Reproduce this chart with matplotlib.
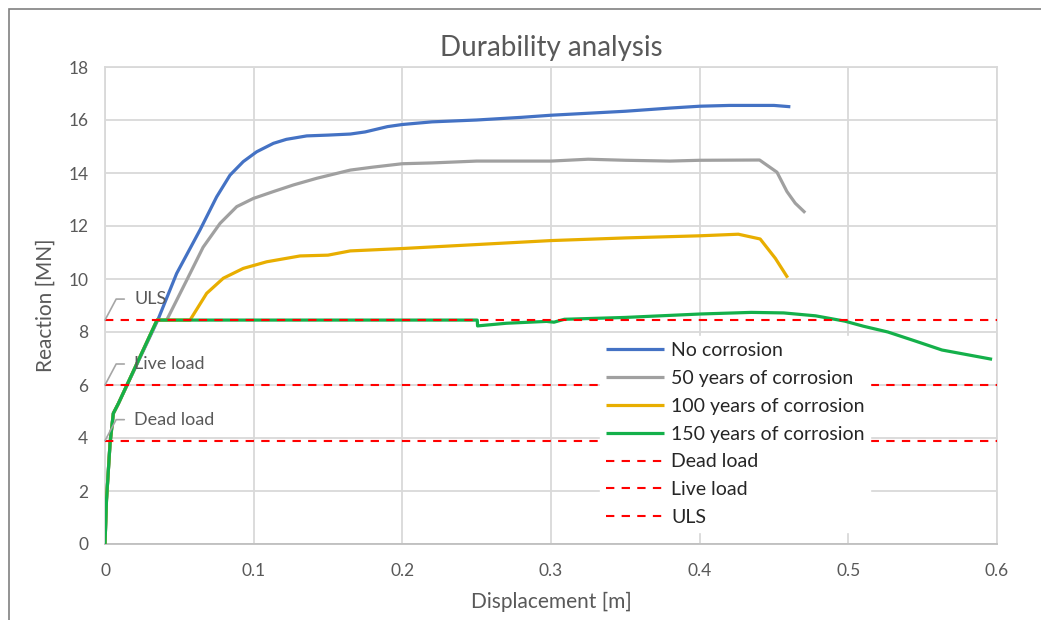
import matplotlib
matplotlib.use("Agg")
import matplotlib.pyplot as plt
from matplotlib.patches import Rectangle

# ---- data ----
x_none = [0, 0.001, 0.0034, 0.0056, 0.009, 0.0355, 0.0482, 0.0639, 0.0751, 0.0841, 0.093,
          0.102, 0.1133, 0.122, 0.1357, 0.15, 0.165, 0.175, 0.19, 0.2, 0.22, 0.25, 0.28,
          0.3, 0.33, 0.35, 0.38, 0.4, 0.42, 0.45, 0.461]
y_none = [0, 1.66, 3.8, 4.93, 5.3, 8.45, 10.21, 11.85, 13.1, 13.92, 14.43,
          14.8, 15.12, 15.27, 15.4, 15.43, 15.47, 15.55, 15.75, 15.83, 15.93, 16.0, 16.1,
          16.18, 16.27, 16.33, 16.45, 16.52, 16.55, 16.55, 16.5]

x_50 = [0, 0.001, 0.0034, 0.0056, 0.009, 0.035, 0.0415, 0.055, 0.066, 0.0774, 0.0886,
        0.0998, 0.1133, 0.1268, 0.1424, 0.165, 0.18, 0.2, 0.22, 0.25, 0.3, 0.325, 0.35,
        0.38, 0.4, 0.4403, 0.452, 0.4587, 0.4643, 0.471]
y_50 = [0, 1.66, 3.8, 4.93, 5.3, 8.45, 8.45, 9.96, 11.2, 12.1, 12.73,
        13.04, 13.3, 13.55, 13.8, 14.11, 14.22, 14.35, 14.38, 14.45, 14.45, 14.52, 14.48,
        14.45, 14.48, 14.49, 14.03, 13.3, 12.86, 12.5]

x_100 = [0, 0.001, 0.0034, 0.0056, 0.009, 0.035, 0.0572, 0.0684, 0.0796, 0.093, 0.1088,
         0.1312, 0.15, 0.165, 0.2, 0.25, 0.3, 0.35, 0.4, 0.426, 0.4407, 0.4509, 0.4592]
y_100 = [0, 1.66, 3.8, 4.93, 5.3, 8.45, 8.45, 9.46, 10.03, 10.4, 10.65,
         10.87, 10.9, 11.06, 11.15, 11.3, 11.45, 11.55, 11.63, 11.69, 11.51, 10.78, 10.05]

x_150 = [0, 0.001, 0.0034, 0.0056, 0.009, 0.035, 0.2504, 0.2506, 0.27, 0.297, 0.302, 0.309,
         0.35, 0.4008, 0.4347, 0.4565, 0.478, 0.4976, 0.51, 0.5266, 0.545, 0.563, 0.5967]
y_150 = [0, 1.66, 3.8, 4.93, 5.3, 8.45, 8.45, 8.23, 8.33, 8.4, 8.37, 8.48,
         8.55, 8.68, 8.74, 8.72, 8.61, 8.41, 8.22, 8.0, 7.66, 7.32, 6.97]

load_names = ["Dead load", "Live load", "ULS"]
load_values = [3.9, 6.0, 8.45]
load_x = [0, 0.6]

series_names = ["No corrosion", "50 years of corrosion", "100 years of corrosion",
                "150 years of corrosion"]
series_colors = ["#4472C4", "#A0A0A0", "#E8AE00", "#14B04A"]

x_ticks = [0, 0.1, 0.2, 0.3, 0.4, 0.5, 0.6]
x_ticklabels = ["0", "0.1", "0.2", "0.3", "0.4", "0.5", "0.6"]
y_ticks = list(range(0, 19, 2))

# ---- figure ----
plt.rcParams['font.family'] = ['Lato', 'DejaVu Sans']
txt = "#595959"

fig = plt.figure(figsize=(10.41, 6.2), dpi=100)
ax = fig.add_axes([105 / 1041, 1 - 544 / 620, (997 - 105) / 1041, (544 - 67) / 620])

# outer chart border
fig.patches.append(Rectangle((9 / 1041, -0.1), 1.2, (620 - 9) / 620 + 0.1,
                             transform=fig.transFigure, fill=False,
                             edgecolor="#808080", linewidth=1.2, clip_on=False))

xs = [x_none, x_50, x_100, x_150]
ys = [y_none, y_50, y_100, y_150]
for xv, yv, name, col in zip(xs, ys, series_names, series_colors):
    ax.plot(xv, yv, color=col, lw=2.3, label=name, solid_capstyle='butt', zorder=3)

for name, val in zip(load_names, load_values):
    ax.plot(load_x, [val, val], color="#FF0000", lw=1.5, ls=(0, (4, 3.5)),
            label=name, zorder=4)

# data labels with leader lines
for name, val in zip(load_names, load_values):
    ax.annotate(name, xy=(0, val), xytext=(29, 21), textcoords='offset pixels',
                ha='left', va='center', fontsize=13, color=txt,
                arrowprops=dict(arrowstyle='-', color="#A6A6A6", lw=1.2,
                                relpos=(0, 0.5), shrinkA=5, shrinkB=0,
                                connectionstyle="angle,angleA=0,angleB=62,rad=0"),
                zorder=5)

ax.set_xlim(0, 0.6)
ax.set_ylim(0, 18)
ax.set_xticks(x_ticks)
ax.set_xticklabels(x_ticklabels)
ax.set_yticks(y_ticks)
ax.grid(True, color="#D9D9D9", lw=1.3)
ax.set_axisbelow(True)
ax.tick_params(length=0, labelsize=12.5, labelcolor=txt)
ax.tick_params(axis='y', pad=12)
ax.tick_params(axis='x', pad=14)
for s in ax.spines.values():
    s.set_color("#D9D9D9")
    s.set_linewidth(1.3)
ax.spines['bottom'].set_color("#BFBFBF")

ax.set_title("Durability analysis", fontsize=20, color=txt, pad=8)
ax.set_xlabel("Displacement [m]", fontsize=15, color=txt, labelpad=9)
ax.set_ylabel("Reaction [MN]", fontsize=15, color=txt, labelpad=9)

leg = ax.legend(loc='upper left', bbox_to_anchor=((600 - 105) / 892, (544 - 336) / 477),
                fontsize=14, frameon=True, fancybox=False, framealpha=1,
                edgecolor='white', handlelength=3.0, handletextpad=0.35,
                labelspacing=0.56, borderpad=0.3, borderaxespad=0)
leg.set_zorder(6)
for t in leg.get_texts():
    t.set_color("#262626")

fig.savefig("out.png", dpi=100)
